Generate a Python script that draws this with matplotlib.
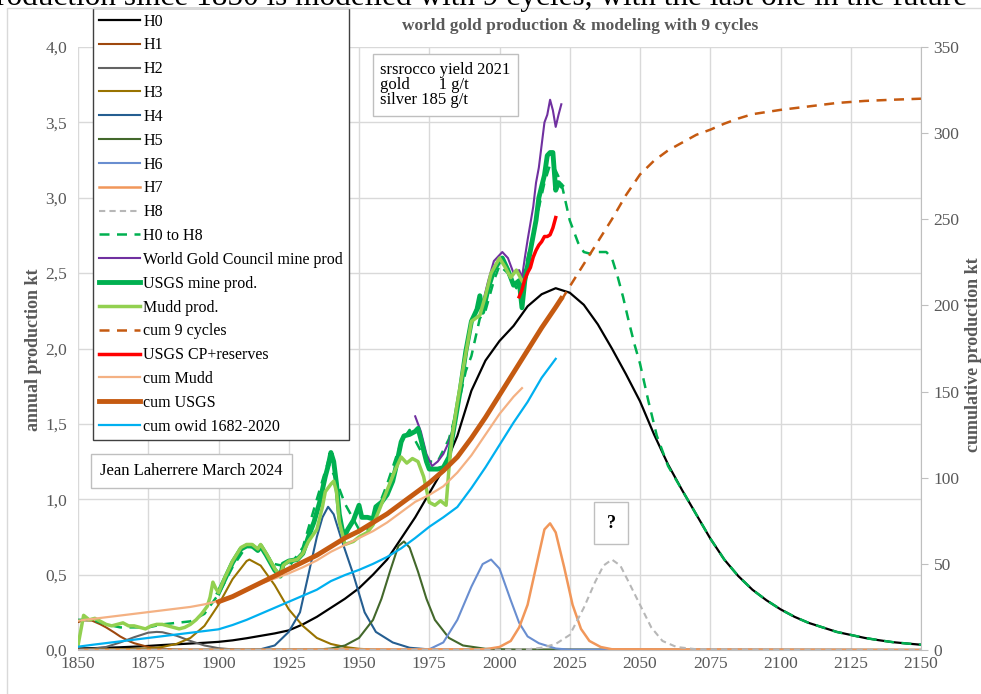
import matplotlib
matplotlib.use("Agg")
import matplotlib.pyplot as plt
from matplotlib.patches import Rectangle
from matplotlib.ticker import FuncFormatter

plt.rcParams['font.family'] = ['Liberation Serif', 'DejaVu Serif']

GREY = '#595959'

# ---- Hubbert cycles (annual, kt) ----
h0_years = [1850, 1855, 1860, 1865, 1870, 1875, 1880, 1885, 1890, 1895, 1900, 1905, 1910,
            1915, 1920, 1925, 1930, 1935, 1940, 1945, 1950, 1955, 1960, 1965, 1970, 1975,
            1980, 1985, 1990, 1995, 2000, 2005, 2010, 2015, 2020, 2025, 2030, 2035, 2040,
            2045, 2050, 2055, 2060, 2065, 2070, 2075, 2080, 2085, 2090, 2095, 2100, 2105,
            2110, 2115, 2120, 2125, 2130, 2135, 2140, 2145, 2150]
h0_vals = [0.01, 0.012, 0.015, 0.018, 0.022, 0.027, 0.033, 0.038, 0.043, 0.048, 0.054, 0.064,
           0.078, 0.094, 0.11, 0.13, 0.17, 0.22, 0.28, 0.34, 0.41, 0.5, 0.6, 0.74, 0.88, 1.04,
           1.2, 1.42, 1.72, 1.92, 2.05, 2.15, 2.28, 2.36, 2.40, 2.37, 2.29, 2.16, 2.0, 1.83,
           1.65, 1.43, 1.23, 1.06, 0.9, 0.74, 0.6, 0.49, 0.4, 0.33, 0.27, 0.22, 0.18, 0.15,
           0.12, 0.10, 0.08, 0.065, 0.052, 0.043, 0.035]

h1_years = [1850, 1852, 1855, 1858, 1860, 1863, 1865, 1868, 1870, 1873, 1875, 1880, 1885, 1890, 2150]
h1_vals = [0.185, 0.197, 0.195, 0.17, 0.15, 0.115, 0.09, 0.06, 0.045, 0.03, 0.02, 0.008, 0.003, 0.001, 0.0]

h2_years = [1850, 1855, 1860, 1865, 1870, 1875, 1878, 1880, 1885, 1890, 1895, 1900, 1905, 1910, 2150]
h2_vals = [0.003, 0.008, 0.02, 0.05, 0.085, 0.115, 0.12, 0.118, 0.095, 0.06, 0.03, 0.012, 0.004, 0.001, 0.0]

h3_years = [1850, 1875, 1880, 1885, 1890, 1895, 1900, 1905, 1910, 1911, 1915, 1920, 1925, 1930,
            1935, 1940, 1945, 1950, 1955, 1960, 2150]
h3_vals = [0.0, 0.01, 0.02, 0.04, 0.08, 0.16, 0.3, 0.47, 0.59, 0.6, 0.56, 0.43, 0.27, 0.16,
           0.08, 0.04, 0.02, 0.008, 0.003, 0.001, 0.0]

h4_years = [1850, 1910, 1915, 1920, 1925, 1929, 1932, 1935, 1937, 1939, 1941, 1944, 1948, 1952,
            1956, 1962, 1968, 1975, 1985, 2150]
h4_vals = [0.0, 0.001, 0.005, 0.03, 0.12, 0.25, 0.5, 0.75, 0.88, 0.95, 0.9, 0.72, 0.5, 0.25,
           0.12, 0.05, 0.015, 0.004, 0.001, 0.0]

h5_years = [1850, 1935, 1940, 1945, 1950, 1955, 1958, 1961, 1964, 1966, 1968, 1971, 1974, 1977,
            1982, 1987, 1995, 2005, 2150]
h5_vals = [0.0, 0.003, 0.01, 0.03, 0.08, 0.2, 0.34, 0.52, 0.69, 0.72, 0.68, 0.52, 0.34, 0.2,
           0.08, 0.03, 0.008, 0.002, 0.0]

h6_years = [1850, 1970, 1975, 1980, 1985, 1990, 1994, 1997, 2000, 2004, 2007, 2010, 2014, 2020, 2025, 2150]
h6_vals = [0.0, 0.001, 0.005, 0.05, 0.2, 0.42, 0.57, 0.6, 0.54, 0.33, 0.18, 0.09, 0.045, 0.01, 0.002, 0.0]

h7_years = [1850, 1995, 2000, 2004, 2007, 2010, 2013, 2016, 2018, 2020, 2023, 2026, 2029, 2032,
            2036, 2040, 2150]
h7_vals = [0.0, 0.005, 0.02, 0.06, 0.15, 0.3, 0.55, 0.8, 0.84, 0.78, 0.55, 0.3, 0.14, 0.06,
           0.02, 0.005, 0.0]

h8_years = [1850, 2005, 2010, 2015, 2020, 2025, 2030, 2034, 2037, 2040, 2043, 2046, 2050, 2054,
            2058, 2063, 2070, 2150]
h8_vals = [0.0, 0.002, 0.005, 0.015, 0.04, 0.1, 0.28, 0.45, 0.56, 0.6, 0.56, 0.45, 0.3, 0.15,
           0.06, 0.02, 0.005, 0.0]

sum_years = [1850, 1855, 1860, 1865, 1870, 1875, 1880, 1885, 1890, 1895, 1900, 1905, 1910, 1915,
             1920, 1925, 1930, 1935, 1939, 1942, 1945, 1950, 1953, 1955, 1960, 1965, 1968, 1972,
             1975, 1978, 1982, 1985, 1988, 1990, 1993, 1995, 1998, 2000, 2003, 2006, 2008, 2010,
             2013, 2016, 2018, 2020, 2022, 2025, 2028, 2030, 2032, 2035, 2038, 2040, 2042, 2044,
             2046, 2048, 2050, 2053, 2056, 2060, 2065, 2070, 2075, 2080, 2085, 2090, 2095, 2100,
             2105, 2110, 2115, 2120, 2125, 2130, 2135, 2140, 2145, 2150]
sum_vals = [0.2, 0.2, 0.17, 0.15, 0.15, 0.15, 0.17, 0.18, 0.19, 0.24, 0.37, 0.55, 0.69, 0.67,
            0.57, 0.55, 0.68, 1.0, 1.25, 1.12, 0.97, 0.8, 0.8, 0.86, 1.1, 1.38, 1.46, 1.32,
            1.25, 1.25, 1.4, 1.6, 1.85, 1.95, 2.2, 2.25, 2.45, 2.55, 2.5, 2.4, 2.45, 2.6,
            2.85, 3.1, 3.22, 3.18, 3.1, 2.85, 2.7, 2.64, 2.63, 2.64, 2.64, 2.6, 2.48, 2.34,
            2.18, 2.03, 1.9, 1.65, 1.42, 1.22, 1.06, 0.9, 0.74, 0.6, 0.49, 0.4, 0.33, 0.27,
            0.22, 0.18, 0.15, 0.12, 0.10, 0.08, 0.065, 0.052, 0.043, 0.035]

# ---- production data (annual, kt) ----
wgc_years = [1970, 1972, 1974, 1976, 1978, 1980, 1982, 1984, 1986, 1988, 1990, 1992, 1994, 1996,
             1998, 2000, 2001, 2003, 2005, 2007, 2008, 2009, 2010, 2012, 2013, 2014, 2015, 2016,
             2017, 2018, 2019, 2020, 2021, 2022]
wgc_vals = [1.55, 1.45, 1.3, 1.22, 1.25, 1.3, 1.38, 1.5, 1.7, 1.95, 2.18, 2.28, 2.3, 2.45,
            2.58, 2.62, 2.64, 2.6, 2.5, 2.52, 2.47, 2.6, 2.72, 2.94, 3.1, 3.2, 3.35, 3.5,
            3.55, 3.65, 3.58, 3.47, 3.55, 3.62]

usgs_years = [1900, 1902, 1905, 1908, 1910, 1912, 1914, 1915, 1917, 1920, 1922, 1923, 1925, 1928,
              1930, 1932, 1934, 1936, 1938, 1939, 1940, 1941, 1942, 1943, 1944, 1945, 1946, 1948,
              1950, 1951, 1953, 1955, 1956, 1958, 1960, 1962, 1963, 1965, 1966, 1968, 1970, 1971,
              1972, 1974, 1975, 1978, 1980, 1982, 1984, 1986, 1988, 1990, 1992, 1993, 1994, 1996,
              1998, 2000, 2001, 2003, 2005, 2007, 2008, 2009, 2011, 2013, 2014, 2016, 2017, 2018,
              2019, 2020, 2021, 2022]
usgs_vals = [0.38, 0.46, 0.58, 0.67, 0.69, 0.69, 0.66, 0.69, 0.63, 0.53, 0.49, 0.57, 0.59, 0.6,
             0.64, 0.75, 0.85, 0.98, 1.15, 1.22, 1.31, 1.25, 1.1, 0.9, 0.8, 0.76, 0.8, 0.86,
             0.96, 0.88, 0.88, 0.87, 0.95, 0.98, 1.03, 1.12, 1.2, 1.38, 1.42, 1.43, 1.45, 1.47,
             1.4, 1.25, 1.2, 1.2, 1.21, 1.28, 1.5, 1.72, 1.98, 2.18, 2.26, 2.35, 2.24, 2.4,
             2.52, 2.58, 2.6, 2.52, 2.42, 2.45, 2.27, 2.45, 2.65, 2.85, 3.0, 3.15, 3.28, 3.3,
             3.3, 3.05, 3.1, 3.08]

mudd_years = [1850, 1852, 1854, 1856, 1858, 1860, 1862, 1864, 1866, 1868, 1870, 1872, 1874, 1876,
              1878, 1880, 1882, 1884, 1886, 1888, 1890, 1892, 1894, 1896, 1897, 1898, 1899, 1900,
              1902, 1905, 1908, 1910, 1912, 1914, 1915, 1917, 1920, 1922, 1923, 1925, 1928, 1930,
              1932, 1935, 1937, 1938, 1940, 1941, 1942, 1943, 1945, 1948, 1950, 1953, 1955, 1957,
              1960, 1963, 1965, 1967, 1969, 1971, 1973, 1975, 1977, 1979, 1981, 1982, 1983, 1985,
              1987, 1990, 1993, 1995, 1997, 2000, 2002, 2004, 2006, 2008]
mudd_vals = [0.03, 0.23, 0.2, 0.21, 0.19, 0.17, 0.16, 0.17, 0.18, 0.16, 0.16, 0.15, 0.14, 0.16,
             0.17, 0.17, 0.16, 0.15, 0.14, 0.15, 0.17, 0.2, 0.24, 0.29, 0.35, 0.45, 0.41, 0.38,
             0.47, 0.59, 0.68, 0.7, 0.7, 0.67, 0.7, 0.64, 0.54, 0.49, 0.56, 0.59, 0.6, 0.64,
             0.72, 0.8, 0.95, 1.05, 1.1, 1.12, 1.05, 0.85, 0.7, 0.72, 0.75, 0.78, 0.83, 0.92,
             1.06, 1.2, 1.28, 1.24, 1.27, 1.25, 1.15, 0.98, 0.96, 0.99, 0.96, 1.2, 1.4, 1.64,
             1.86, 2.18, 2.22, 2.35, 2.5, 2.6, 2.54, 2.47, 2.52, 2.45]

# ---- cumulative (right axis, kt) ----
cum9_years = [2022, 2025, 2030, 2035, 2040, 2045, 2050, 2055, 2060, 2065, 2070, 2075, 2080, 2085,
              2090, 2100, 2110, 2120, 2130, 2140, 2150]
cum9_vals = [203, 211, 224, 237, 250, 264, 276, 284, 290, 294.5, 299, 302, 305.5, 308.5,
             311, 313.5, 315.5, 317.5, 318.7, 319.4, 320]

cp_res_years = [2007, 2008, 2009, 2010, 2011, 2012, 2013, 2014, 2015, 2016, 2017, 2018, 2019, 2020]
cp_res_vals = [205, 209, 215, 219, 222, 228, 232, 235, 237, 240, 240, 241, 245, 251]

cum_mudd_years = [1850, 1855, 1860, 1865, 1870, 1875, 1880, 1885, 1890, 1895, 1900, 1905, 1910,
                  1915, 1920, 1925, 1930, 1935, 1940, 1945, 1950, 1955, 1960, 1965, 1970, 1975,
                  1980, 1985, 1990, 1995, 2000, 2005, 2008]
cum_mudd_vals = [17, 18, 19, 20, 21, 22, 23, 24, 25, 26.5, 28.5, 31.5, 35, 38.5, 41.5, 44.5,
                 48, 52, 57, 61, 65, 69, 74, 80, 86, 90, 95, 103, 113, 125, 137, 147, 152]

cum_usgs_years = [1900, 1905, 1910, 1915, 1920, 1925, 1930, 1935, 1940, 1945, 1950, 1955, 1960,
                  1965, 1970, 1975, 1980, 1985, 1990, 1995, 2000, 2005, 2010, 2015, 2020, 2022]
cum_usgs_vals = [28, 31, 35, 39, 43, 47, 51, 55, 60, 65, 69, 74, 79, 85, 91, 97, 104, 112,
                 123, 135, 148, 161, 174, 187, 199, 204]

owid_years = [1850, 1855, 1860, 1865, 1870, 1875, 1880, 1885, 1890, 1895, 1900, 1905, 1910,
              1915, 1920, 1925, 1930, 1935, 1940, 1945, 1950, 1955, 1960, 1965, 1970, 1975,
              1980, 1985, 1990, 1995, 2000, 2005, 2010, 2015, 2020]
owid_vals = [1.9, 3, 4, 5, 6, 7, 8, 9, 10, 11, 12, 14.5, 17.5, 21, 24.5, 28, 31.5, 35, 40,
             43.5, 46.5, 50, 54, 59, 65, 71.5, 77, 83, 94, 106, 119, 132, 144, 158, 169]

fig = plt.figure(figsize=(9.81, 6.94), dpi=100)
fig.patches.append(Rectangle((7 / 981, -0.01), 1.0, 1 - 8 / 694 + 0.01, transform=fig.transFigure,
                             fill=False, edgecolor='#d9d9d9', linewidth=1))
ax = fig.add_axes([78 / 981, 44 / 694, 843 / 981, 603 / 694])
ax2 = ax.twinx()

handles = []
handles += ax.plot(h0_years, h0_vals, color='black', lw=1.6, label='H0')
handles += ax.plot(h1_years, h1_vals, color='#9e480e', lw=1.5, label='H1')
handles += ax.plot(h2_years, h2_vals, color='#636363', lw=1.5, label='H2')
handles += ax.plot(h3_years, h3_vals, color='#997300', lw=1.5, label='H3')
handles += ax.plot(h4_years, h4_vals, color='#255e91', lw=1.5, label='H4')
handles += ax.plot(h5_years, h5_vals, color='#43682b', lw=1.5, label='H5')
handles += ax.plot(h6_years, h6_vals, color='#698ed0', lw=1.5, label='H6')
handles += ax.plot(h7_years, h7_vals, color='#f1975a', lw=1.8, label='H7')
handles += ax.plot(h8_years, h8_vals, color='#b7b7b7', lw=1.5, ls=(0, (3, 2)), label='H8')
handles += ax.plot(sum_years, sum_vals, color='#00b050', lw=1.8, ls=(0, (4, 3)), label='H0 to H8')
handles += ax.plot(wgc_years, wgc_vals, color='#7030a0', lw=1.5, label='World Gold Council mine prod')
handles += ax.plot(usgs_years, usgs_vals, color='#00b050', lw=3.5, label='USGS mine prod.')
handles += ax.plot(mudd_years, mudd_vals, color='#92d050', lw=2.5, label='Mudd prod.')

handles += ax2.plot(cum9_years, cum9_vals, color='#c55a11', lw=1.8, ls=(0, (4, 3)), label='cum 9 cycles')
handles += ax2.plot(cp_res_years, cp_res_vals, color='#ff0000', lw=2.5, label='USGS CP+reserves')
handles += ax2.plot(cum_mudd_years, cum_mudd_vals, color='#f4b183', lw=1.6, label='cum Mudd')
handles += ax2.plot(cum_usgs_years, cum_usgs_vals, color='#c55a11', lw=3.5, label='cum USGS')
handles += ax2.plot(owid_years, owid_vals, color='#00b0f0', lw=1.6, label='cum owid 1682-2020')

ax.set_xlim(1850, 2150)
ax.set_ylim(0, 4.0)
ax2.set_ylim(0, 350)
ax.set_xticks(range(1850, 2151, 25))
ax.set_yticks([i * 0.5 for i in range(9)])
ax2.set_yticks(range(0, 351, 50))
ax.yaxis.set_major_formatter(FuncFormatter(lambda v, p: f'{v:.1f}'.replace('.', ',')))
ax.grid(True, color='#d9d9d9', lw=1)
ax.set_axisbelow(True)

for a in (ax, ax2):
    for s in a.spines.values():
        s.set_visible(False)
    a.tick_params(labelsize=12.5, labelcolor=GREY, colors='#bfbfbf', length=4)
ax.spines['bottom'].set_visible(True)
ax.spines['bottom'].set_color('#bfbfbf')
ax2.spines['right'].set_visible(True)
ax2.spines['right'].set_color('#bfbfbf')
ax.tick_params(axis='y', length=0, pad=8)
ax.tick_params(axis='x', length=0, pad=4)
ax2.tick_params(axis='y', length=5, pad=4)

# page text above the chart, cut by the top edge
fig.text(-0.004, 1 - 5 / 694, 'roduction since 1850 is modelled with 9 cycles, with the last one in the future',
         fontsize=22.5, va='baseline', ha='left', color='black')
fig.text(580 / 981, 1 - 26 / 694, 'world gold production & modeling with 9 cycles',
         fontsize=12.5, fontweight='bold', color=GREY, ha='center', va='center')
fig.text(34 / 981, 1 - 350 / 694, 'annual production kt', rotation=90, fontsize=13,
         fontweight='bold', color=GREY, ha='center', va='center')
fig.text(973 / 981, 1 - 355 / 694, 'cumulative production kt', rotation=90, fontsize=13,
         fontweight='bold', color=GREY, ha='center', va='center')

box = dict(boxstyle='square,pad=0.45', facecolor='white', edgecolor='#bfbfbf', lw=1)
fig.text(380 / 981, 1 - 85 / 694, 'srsrocco yield 2021\ngold       1 g/t\nsilver 185 g/t',
         fontsize=12, va='center', ha='left', linespacing=0.95, bbox=box)
fig.text(100 / 981, 1 - 471 / 694, 'Jean Laherrere March 2024', fontsize=12, va='center',
         ha='left', bbox=dict(boxstyle='square,pad=0.55', facecolor='white', edgecolor='#bfbfbf', lw=1))
fig.text(611 / 981, 1 - 523 / 694, '?', fontsize=13, fontweight='bold', va='center', ha='center',
         bbox=dict(boxstyle='square,pad=0.7', facecolor='white', edgecolor='#bfbfbf', lw=1))

leg = ax2.legend(handles=handles, loc='upper left', bbox_to_anchor=(93 / 981, 1 - 8 / 694),
                 bbox_transform=fig.transFigure, fontsize=11.5, frameon=True, fancybox=False,
                 framealpha=1, edgecolor='#404040', labelspacing=0.49, handlelength=2.6,
                 handletextpad=0.2, borderpad=0.35, borderaxespad=0)
leg.get_frame().set_linewidth(1)

fig.savefig('out.png', dpi=100)
